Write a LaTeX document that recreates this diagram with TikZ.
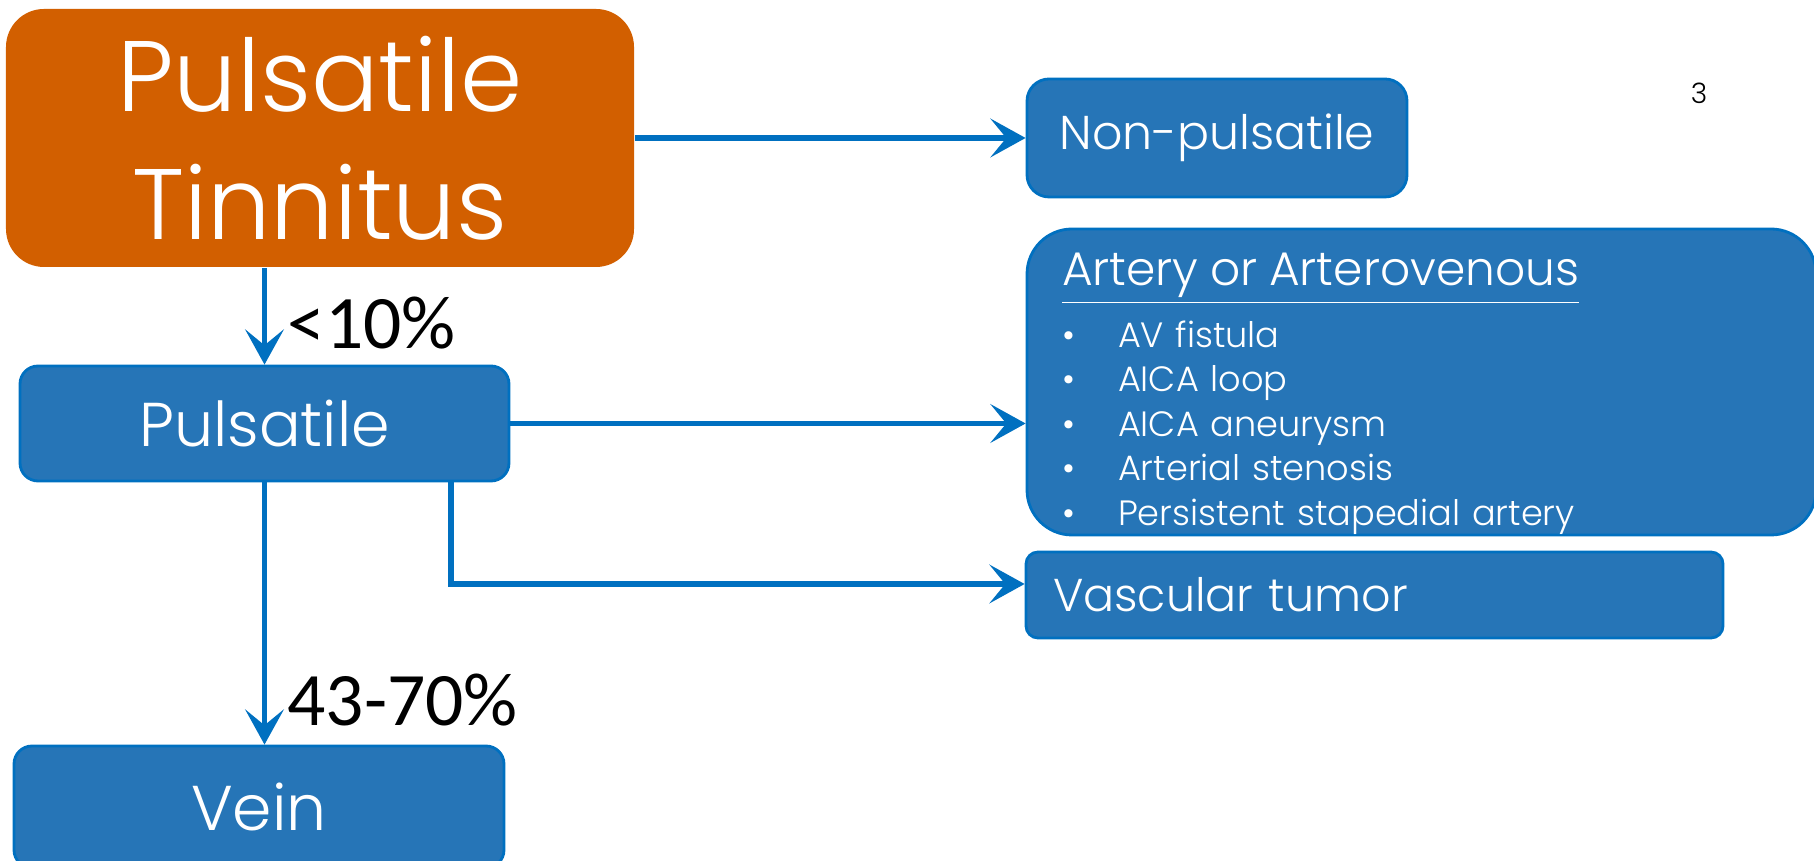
\documentclass[tikz,border=0pt]{standalone}
\usepackage{fontspec}
\setmainfont{Poppins}[UprightFont=* Light]
\newfontfamily\calibri{Carlito}
\usetikzlibrary{arrows.meta,positioning,calc}
\definecolor{tinorange}{RGB}{210,95,0}
\definecolor{boxblue}{RGB}{38,117,183}
\definecolor{lineblue}{RGB}{0,112,192}
\tikzset{
  box/.style    = {draw=lineblue,line width=0.8pt,fill=boxblue,text=white,
                   rounded corners=5pt,inner sep=0pt,align=center},
  arrow/.style  = {-{Stealth[length=10pt,width=11pt,inset=4.5pt]},
                   line width=1.7pt,color=lineblue},
  pct/.style    = {font=\calibri\fontsize{21.5}{24}\selectfont,text=black,inner sep=0pt},
}
\newcommand{\blt}{\makebox[0.56cm][l]{\textbullet}}

\begin{document}
\begin{tikzpicture}
  \useasboundingbox (0,0) rectangle (18.14,8.61);
  \node[box,fill=tinorange,draw=none,rounded corners=0.38cm,minimum width=6.28cm,
        minimum height=2.58cm,font=\fontsize{28.5}{36.4}\selectfont] (tinnitus) at (3.20,7.23)
        {Pulsatile\\Tinnitus};
  \node[box,rounded corners=0.22cm,minimum width=3.80cm,minimum height=1.18cm,
        font=\fontsize{13.5}{17}\selectfont] (nonpuls) at (12.17,7.23) {Non-pulsatile};
  \node[box,rounded corners=0.18cm,minimum width=4.89cm,minimum height=1.15cm,
        font=\fontsize{17.6}{22}\selectfont] (pulsatile) at (2.645,4.375) {Pulsatile};
  % strut on the heading pushes the list down a little
  \node[box,rounded corners=0.45cm,minimum width=7.89cm,minimum height=3.06cm,
        text width=7.19cm,align=left,font=\fontsize{10}{12.7}\selectfont] (artery) at (14.215,4.79)
        {{\fontsize{13.4}{16}\selectfont\rule{0pt}{16pt}\underline{Artery or Arterovenous}}\\[3.5pt]
         \blt AV fistula\\
         \blt AICA loop\\
         \blt AICA aneurysm\\
         \blt Arterial stenosis\\
         \blt Persistent stapedial artery};
  \node[box,rounded corners=0.12cm,minimum width=6.97cm,minimum height=0.86cm,
        text width=6.43cm,align=left,font=\fontsize{13.1}{16}\selectfont] (vascular) at (13.745,2.66)
        {Vascular tumor};
  \node[box,rounded corners=0.18cm,minimum width=4.90cm,minimum height=1.22cm,
        font=\fontsize{18}{22}\selectfont] (vein) at (2.59,0.54) {Vein};
  \node[font=\fontsize{8}{9}\selectfont,inner sep=0pt] (pagenum) at (16.99,7.68) {3};

  \draw[arrow] (tinnitus.east) -- (nonpuls.west);
  \draw[arrow] (tinnitus.south -| pulsatile.north) -- (pulsatile.north)
       node[pct,pos=0.57,right=0.2cm] {<10\%};
  \draw[arrow] (pulsatile.east) -- (artery.west |- pulsatile.east);
  \draw[arrow] (pulsatile.south) -- (pulsatile.south |- vein.north)
       node[pct,pos=0.83,right=0.2cm] {43-70\%};
  \coordinate (elbow) at (4.51,2.77);
  \draw[arrow] (pulsatile.south -| elbow) -- (elbow) -- (vascular.west |- elbow);
\end{tikzpicture}
\end{document}
